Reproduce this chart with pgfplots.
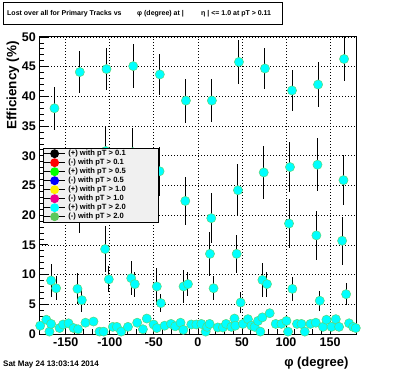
\documentclass[border=0pt]{standalone}
\usepackage{fontspec}
\setmainfont{Liberation Sans}
\usepackage{pgfplots}
\usepackage{pgfplotstable}
\pgfplotsset{compat=1.18}

\definecolor{rcyan}{RGB}{0,255,255}
\definecolor{redge}{RGB}{90,215,120}
\definecolor{lgreen}{RGB}{90,200,90}
\definecolor{legfill}{RGB}{240,240,240}

\pgfplotstableread{
x y e
-162.8 38.0 3.6
-134.0 44.1 3.5
-103.7 44.6 3.5
-73.4 45.1 3.7
-43.2 43.7 3.5
-13.6 39.3 3.7
15.9 39.3 3.6
46.6 45.8 3.7
76.1 44.7 3.5
106.8 41.0 3.5
136.4 42.0 3.8
165.9 46.3 3.7
}\toptab

\pgfplotstableread{
x y e
-163.5 25.0 4.0
-104.5 30.8 4.0
-74.0 30.6 4.0
-43.5 27.4 4.1
-14.3 22.4 4.1
15.2 19.5 4.2
45.5 24.2 4.4
74.7 27.2 4.4
104.5 28.1 4.2
135.7 28.5 4.5
165.2 25.9 4.2
}\midtab

\pgfplotstableread{
x y e
-134.5 21.0 4.0
-105.3 14.3 3.8
13.7 13.5 3.7
44.0 13.5 3.2
103.4 18.6 4.1
134.5 16.6 4.1
163.7 15.7 4.0
}\thirdtab

\pgfplotstableread{
x y e
-166.6 9.0 2.8
-160.9 7.7 2.0
-136.7 7.6 2.6
-131.7 5.7 2.0
-101.1 9.2 2.2
-75.7 9.4 2.9
-71.6 8.4 2.1
-46.6 8.0 3.1
-42.0 5.2 1.5
-16.3 8.0 2.8
-11.3 8.4 2.0
17.8 7.7 2.0
48.5 5.3 1.8
73.2 9.1 2.9
78.4 8.4 2.1
107.2 7.6 2.0
138.3 5.6 1.7
168.2 6.7 1.9
}\lowtab

\pgfplotstableread{
x y
-179.0 1.4
-172.0 2.4
-168.5 0.4
-166.6 1.7
-157.0 1.0
-153.0 1.6
-146.8 1.8
-141.0 1.0
-136.0 0.8
-127.6 1.9
-118.5 2.1
-111.7 0.4
-107.0 0.4
-96.5 1.2
-92.0 1.2
-87.0 0.4
-79.4 1.2
-68.9 1.9
-62.4 0.8
-58.0 2.6
-50.3 1.6
-46.6 1.0
-37.8 1.4
-30.5 1.7
-25.7 1.3
-19.7 1.9
-16.5 0.7
-7.5 1.6
-1.8 1.6
3.9 1.7
8.8 0.4
10.5 1.2
13.3 1.7
22.5 1.1
28.4 1.1
32.0 1.7
38.0 1.2
41.5 2.6
42.5 1.4
51.1 1.7
56.8 2.5
60.7 1.4
64.4 1.2
68.2 2.2
70.9 0.4
73.2 2.8
81.5 3.5
88.3 1.7
94.8 1.7
100.5 2.2
102.3 0.4
112.5 1.7
117.5 1.7
121.3 0.4
127.7 1.7
133.8 1.9
142.0 1.2
145.9 2.4
151.6 1.2
156.5 2.5
160.2 1.2
171.6 1.8
176.1 1.2
179.2 1.0
}\zerotab

\begin{document}
\begin{tikzpicture}[x=1pt,y=1pt]
\useasboundingbox (0,0) rectangle (396,372);
\begin{axis}[
  at={(39.3pt,38pt)}, anchor=south west,
  scale only axis, width=317.2pt, height=297pt,
  xmin=-180, xmax=180, ymin=0, ymax=50,
  xtick={-150,-100,-50,0,50,100,150},
  ytick={0,5,10,15,20,25,30,35,40,45,50},
  minor x tick num=4, minor y tick num=4,
  tick pos=left, tick align=inside,
  major tick length=9pt, minor tick length=4.5pt,
  every tick/.style={black, line width=0.8pt},
  axis line style={black, line width=1pt},
  grid=major,
  major grid style={black, line width=0.7pt, dash pattern=on 1pt off 2pt},
  /pgf/number format/assume math mode=true,
  tick label style={font=\fontsize{12.5}{13}\selectfont\bfseries},
  xlabel={\fontsize{13}{14}\selectfont\bfseries φ (degree)},
  xlabel style={at={(axis description cs:1,0)}, anchor=east, xshift=-4.5pt, yshift=-28.7pt},
  ylabel={\fontsize{13.5}{14}\selectfont\bfseries Efficiency (\%)},
  ylabel style={at={(axis description cs:-0.083,0.998)}, anchor=east},
  legend style={at={(0.0117,0.6263)}, anchor=north west, fill=legfill, draw=black,
    font=\fontsize{7.6}{8}\selectfont\bfseries, inner xsep=0.5pt, inner ysep=1pt,
    row sep=0pt, nodes={inner sep=0.8pt, text height=5.8pt, text depth=1.6pt}},
  legend cell align=left,
  legend image code/.code={\draw[mark repeat=2,mark phase=2,#1] plot coordinates {(0pt,0pt) (10.5pt,0pt) (21pt,0pt)};},
  error bars/error bar style={black, line width=1pt},
  errs/.style={forget plot, only marks, mark=none, error bars/.cd, y dir=both, y explicit, error mark=none},
  pts/.style={forget plot, only marks, mark=*, mark size=4.6pt, mark options={fill=rcyan, draw=redge, line width=0.5pt}},
]
\addlegendimage{black, line width=0.8pt, mark=*, mark size=4pt, mark options={fill=black, draw=black}}
\addlegendentry{\hspace{2pt}\makebox[88.5pt][l]{(+) with pT > 0.1}}
\addlegendimage{black, line width=0.8pt, mark=*, mark size=4pt, mark options={fill=red, draw=red}}
\addlegendentry{\hspace{2pt}\makebox[88.5pt][l]{(-) with pT > 0.1}}
\addlegendimage{black, line width=0.8pt, mark=*, mark size=4pt, mark options={fill=green, draw=green}}
\addlegendentry{\hspace{2pt}\makebox[88.5pt][l]{(+) with pT > 0.5}}
\addlegendimage{black, line width=0.8pt, mark=*, mark size=4pt, mark options={fill=blue, draw=blue}}
\addlegendentry{\hspace{2pt}\makebox[88.5pt][l]{(-) with pT > 0.5}}
\addlegendimage{black, line width=0.8pt, mark=*, mark size=4pt, mark options={fill=yellow, draw=yellow}}
\addlegendentry{\hspace{2pt}\makebox[88.5pt][l]{(+) with pT > 1.0}}
\addlegendimage{black, line width=0.8pt, mark=*, mark size=4pt, mark options={fill=magenta, draw=magenta}}
\addlegendentry{\hspace{2pt}\makebox[88.5pt][l]{(-) with pT > 1.0}}
\addlegendimage{black, line width=0.8pt, mark=*, mark size=4pt, mark options={fill=rcyan, draw=rcyan}}
\addlegendentry{\hspace{2pt}\makebox[88.5pt][l]{(+) with pT > 2.0}}
\addlegendimage{black, line width=0.8pt, mark=*, mark size=4pt, mark options={fill=lgreen, draw=lgreen}}
\addlegendentry{\hspace{2pt}\makebox[88.5pt][l]{(-) with pT > 2.0}}

\addplot[errs] table[x=x, y=y, y error=e] {\toptab};
\addplot[pts] table[x=x, y=y] {\toptab};
\addplot[errs] table[x=x, y=y, y error=e] {\midtab};
\addplot[pts] table[x=x, y=y] {\midtab};
\addplot[errs] table[x=x, y=y, y error=e] {\thirdtab};
\addplot[pts] table[x=x, y=y] {\thirdtab};
\addplot[errs] table[x=x, y=y, y error=e] {\lowtab};
\addplot[pts] table[x=x, y=y] {\lowtab};
\addplot[pts] table[x=x, y=y] {\zerotab};
\end{axis}
\draw[black, line width=1pt, fill=white] (3,347) rectangle (282,369);
\node[anchor=west, inner sep=0pt, font=\fontsize{7}{8}\selectfont\bfseries] at (7,358) {Lost over all for Primary Tracks vs};
\node[anchor=west, inner sep=0pt, font=\fontsize{7}{8}\selectfont\bfseries] at (137,358) {φ (degree) at |};
\node[anchor=west, inner sep=0pt, font=\fontsize{7}{8}\selectfont\bfseries] at (201,358) {η | <= 1.0 at pT > 0.11};
\node[anchor=west, inner sep=0pt, font=\fontsize{8}{9}\selectfont\bfseries] at (3,7) {Sat May 24 13:03:14 2014};
\end{tikzpicture}
\end{document}
